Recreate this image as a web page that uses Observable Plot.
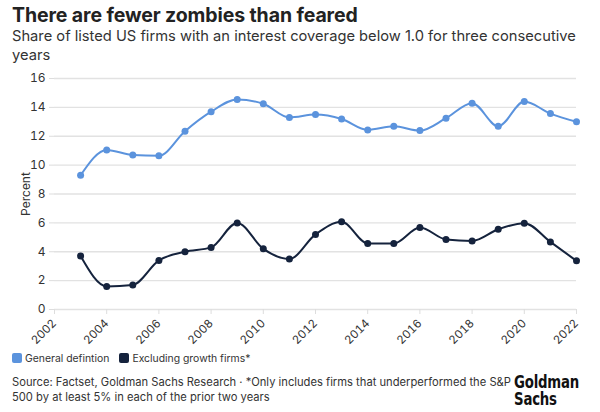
<!DOCTYPE html>
<html>
<head>
<meta charset="utf-8">
<script src="https://cdn.jsdelivr.net/npm/d3@7"></script>
<script src="https://cdn.jsdelivr.net/npm/@observablehq/plot@0.6"></script>
<style>
  body { margin: 0; background: #fff; font-family: "Inter", "Roboto", sans-serif; width: 600px; height: 412px; overflow: hidden; position: relative; }
  #title { position: absolute; left: 12px; top: 3px; font-size: 19.5px; font-weight: 700; color: #222; letter-spacing: -0.1px; }
  #subtitle { position: absolute; left: 12px; top: 27px; width: 580px; font-size: 14.7px; line-height: 19px; color: #333; }
  #chart { position: absolute; left: 0; top: 62px; }
  #legend { position: absolute; left: 12px; top: 352px; font-size: 10.4px; color: #333; display: flex; gap: 10px; align-items: center; }
  .sw { display: inline-block; width: 10px; height: 10px; border-radius: 2px; vertical-align: -1px; margin-right: 3px; }
  #source { position: absolute; left: 12px; top: 375px; font-size: 11.2px; line-height: 14.5px; color: #333; white-space: nowrap; }
  .logo { position: absolute; left: 514px; font-family: "DejaVu Sans", sans-serif; font-weight: 700; font-size: 18.5px; color: #111; transform: scaleX(0.72); transform-origin: left top; white-space: nowrap; line-height: 16px; height: 16px; letter-spacing: -0.3px; }
</style>
</head>
<body>
<div id="title">There are fewer zombies than feared</div>
<div id="subtitle">Share of listed US firms with an interest coverage below 1.0 for three consecutive years</div>
<div id="chart"></div>
<div id="legend"></div>
<div id="source">Source: Factset, Goldman Sachs Research · *Only includes firms that underperformed the S&amp;P<br>500 by at least 5% in each of the prior two years</div>
<div class="logo" style="top:374px">Goldman</div>
<div class="logo" style="top:391px">Sachs</div>
<script>
const years = [2003,2004,2005,2006,2007,2008,2009,2010,2011,2012,2013,2014,2015,2016,2017,2018,2019,2020,2021,2022];
const general = [9.3,11.05,10.7,10.65,12.35,13.7,14.55,14.25,13.3,13.5,13.2,12.44,12.69,12.39,13.25,14.29,12.69,14.4,13.57,13.0];
const excluding = [3.7,1.6,1.7,3.4,4.0,4.3,6.0,4.2,3.5,5.2,6.07,4.57,4.57,5.68,4.85,4.75,5.56,5.98,4.68,3.37];
const seriesNames = ["General defintion", "Excluding growth firms*"];
const seriesColors = ["#5b93dd", "#15233d"];
const xTicks = [2002,2004,2006,2008,2010,2012,2014,2016,2018,2020,2022];
const yTicks = [0,2,4,6,8,10,12,14,16];

const data = [];
years.forEach((y, i) => {
  data.push({year: y, value: general[i], series: seriesNames[0]});
  data.push({year: y, value: excluding[i], series: seriesNames[1]});
});

const chart = Plot.plot({
  width: 600,
  height: 292,
  marginTop: 16,
  marginLeft: 54,
  marginRight: 24,
  marginBottom: 45,
  style: {fontFamily: "Inter, Roboto, sans-serif", fontSize: "11px", color: "#333", overflow: "visible"},
  x: {domain: [2002, 2022], label: null},
  y: {domain: [0, 16], label: "Percent"},
  color: {domain: seriesNames, range: seriesColors},
  marks: [
    Plot.gridY(yTicks, {stroke: "#e2e2e2", strokeOpacity: 1, strokeWidth: 1.3}),
    Plot.axisY({ticks: yTicks, tickSize: 5, stroke: "#ddd", label: "Percent", labelAnchor: "center", labelArrow: "none", labelOffset: 33, fontSize: 12}),
    Plot.axisX({ticks: xTicks, tickFormat: d => String(d), tickRotate: -45, tickSize: 5, stroke: "#ddd", label: null, fontSize: 11.5}),
    Plot.line(data, {x: "year", y: "value", z: "series", stroke: "series", strokeWidth: 2, curve: "monotone-x"}),
    Plot.dot(data, {x: "year", y: "value", fill: "series", r: 3.5})
  ]
});
document.getElementById("chart").appendChild(chart);

const legend = document.getElementById("legend");
seriesNames.forEach((n, i) => {
  const s = document.createElement("span");
  s.innerHTML = `<span class="sw" style="background:${seriesColors[i]}"></span>${n}`;
  legend.appendChild(s);
});
</script>
</body>
</html>
